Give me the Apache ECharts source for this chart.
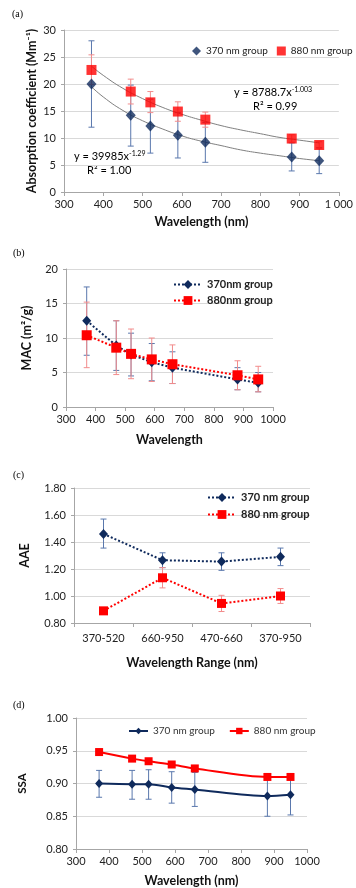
<!DOCTYPE html>
<html><head><meta charset="utf-8">
<script src="https://cdn.jsdelivr.net/npm/echarts@6/dist/echarts.min.js"></script>
<style>html,body{margin:0;padding:0;background:#fff}#c{width:356px;height:888px}</style>
</head><body><div id="c"></div>
<script>
// ---------- data ----------
const wavelengths = [370, 470, 520, 590, 660, 880, 950];
// (a) absorption coefficient (Mm-1)
const absG370 = [20.0, 14.2, 12.2, 10.5, 9.2, 6.5, 5.8];
const absG370Lo = [12.0, 8.5, 7.2, 6.3, 5.5, 3.9, 3.4];
const absG370Hi = [28.0, 19.8, 17.2, 14.7, 12.9, 9.1, 8.2];
const absG880 = [22.6, 18.6, 16.6, 14.9, 13.4, 9.9, 8.7];
const absG880Lo = [19.9, 16.3, 14.7, 13.1, 12.0, 9.2, 8.1];
const absG880Hi = [25.4, 20.9, 18.6, 16.7, 14.8, 10.6, 9.3];
const trendX = [370, 400, 450, 500, 550, 600, 650, 700, 750, 800, 850, 900, 950];
const trend370 = [19.5, 17.6, 15.1, 13.2, 11.7, 10.4, 9.4, 8.6, 7.8, 7.2, 6.7, 6.2, 5.8];
const trend880 = [23.3, 21.6, 19.2, 17.3, 15.7, 14.4, 13.3, 12.3, 11.5, 10.8, 10.1, 9.6, 9.1];
// (b) MAC (m2/g)
const macG370 = [12.5, 8.9, 7.6, 6.5, 5.7, 4.0, 3.5];
const macG370Lo = [7.5, 5.3, 4.5, 3.8, 3.4, 2.5, 2.2];
const macG370Hi = [17.4, 12.5, 10.7, 9.2, 8.0, 5.7, 5.0];
const macG880 = [10.4, 8.6, 7.7, 6.9, 6.2, 4.6, 4.0];
const macG880Lo = [5.7, 4.7, 4.1, 3.7, 3.4, 2.5, 2.2];
const macG880Hi = [15.2, 12.5, 11.3, 10.0, 9.0, 6.7, 5.9];
// (c) AAE
const ranges = ['370-520', '660-950', '470-660', '370-950'];
const aaeG370 = [1.46, 1.265, 1.255, 1.29];
const aaeG370Lo = [1.355, 1.21, 1.19, 1.225];
const aaeG370Hi = [1.57, 1.32, 1.32, 1.355];
const aaeG880 = [0.89, 1.135, 0.945, 1.0];
const aaeG880Lo = [0.875, 1.06, 0.885, 0.945];
const aaeG880Hi = [0.905, 1.21, 1.005, 1.055];
// (d) SSA
const ssaG370 = [0.900, 0.899, 0.899, 0.894, 0.891, 0.881, 0.883];
const ssaG370Lo = [0.879, 0.876, 0.876, 0.870, 0.865, 0.850, 0.852];
const ssaG370Hi = [0.920, 0.920, 0.921, 0.918, 0.917, 0.912, 0.913];
const ssaG880 = [0.948, 0.938, 0.934, 0.929, 0.923, 0.910, 0.910];
const ssaG880Lo = [0.943, 0.934, 0.930, 0.925, 0.919, 0.906, 0.906];
const ssaG880Hi = [0.953, 0.942, 0.938, 0.933, 0.927, 0.914, 0.914];

// ---------- styling ----------
const NAVY = '#0f2a5c', RED = '#ff0000', BLUEERR = '#5a78ad', REDERR = '#f28c8c';
const FONT = 'Lato, "Open Sans", sans-serif';
const legendNames = {a370:'370 nm group', a880:'880 nm group', b370:'370nm group', b880:'880nm group',
  c370:'370 nm group', c880:'880 nm group', d370:'370 nm group', d880:'880 nm group'};

function zip(xs, ys){ return xs.map((x,i)=>[x, ys[i]]); }
function errData(xs, lo, hi){ return xs.map((x,i)=>[x, lo[i], hi[i]]); }
function errSeries(name, xs, lo, hi, idx, color, cap){
  return {
    name: name, type: 'custom', xAxisIndex: idx, yAxisIndex: idx, z: 1, silent: true,
    data: errData(xs, lo, hi), encode: {x: 0, y: [1, 2]},
    renderItem: function(params, api){
      const x = api.value(0);
      const p1 = api.coord([x, api.value(1)]);
      const p2 = api.coord([x, api.value(2)]);
      const st = {stroke: color, lineWidth: 1};
      return {type: 'group', children: [
        {type: 'line', shape: {x1: p1[0], y1: p1[1], x2: p2[0], y2: p2[1]}, style: st},
        {type: 'line', shape: {x1: p1[0]-cap, y1: p1[1], x2: p1[0]+cap, y2: p1[1]}, style: st},
        {type: 'line', shape: {x1: p2[0]-cap, y1: p2[1], x2: p2[0]+cap, y2: p2[1]}, style: st}
      ]};
    }
  };
}
function valX(idx, nameText, gap, fmt){
  return {type: 'value', gridIndex: idx, min: 300, max: 1000, interval: 100,
    name: nameText, nameLocation: 'middle', nameGap: gap, nameMoveOverlap: false,
    nameTextStyle: {fontFamily: FONT, fontWeight: 'bold', fontSize: 12.5, color: '#111'},
    axisLine: {lineStyle: {color: '#a6a6a6'}}, axisTick: {show: true, length: 4, lineStyle: {color: '#a6a6a6'}},
    axisLabel: {fontFamily: FONT, fontSize: 11, color: '#222', margin: 7, formatter: fmt || (v => String(v))},
    splitLine: {show: false}};
}
function valY(idx, min, max, interval, nameText, gap, dec, nameSize){
  return {type: 'value', gridIndex: idx, min: min, max: max, interval: interval,
    name: nameText, nameLocation: 'middle', nameGap: gap, nameRotate: 90, nameMoveOverlap: false,
    nameTextStyle: {fontFamily: FONT, fontWeight: 'bold', fontSize: nameSize, color: '#111'},
    axisLine: {show: true, lineStyle: {color: '#a6a6a6'}}, axisTick: {show: true, length: 3, lineStyle: {color: '#a6a6a6'}},
    axisLabel: {fontFamily: FONT, fontSize: 11, color: '#222', margin: 8,
      formatter: v => dec ? v.toFixed(dec) : String(v)},
    splitLine: {show: true, lineStyle: {color: '#d9d9d9'}}};
}
function panelLabel(txt, x, y){
  return {type: 'text', left: x, top: y, style: {text: txt, font: '10px "Liberation Serif", serif', fill: '#000'}};
}
const rich = {m: {fontFamily: FONT, fontSize: 11, color: '#222'}, s: {fontFamily: FONT, fontSize: 7, color: '#222', verticalAlign: 'top', padding: [0,0,6,0]}};

const option = {
  animation: false,
  backgroundColor: '#fff',
  grid: [
    {left: 64, right: 12, top: 30, height: 162},
    {left: 66, right: 83, top: 269, height: 138},
    {left: 74, right: 46, top: 488, height: 135},
    {left: 76, right: 49, top: 718, height: 131}
  ],
  xAxis: [
    valX(0, 'Wavelength (nm)', 23, v => v === 1000 ? '1 000' : String(v)),
    valX(1, 'Wavelength', 26),
    {type: 'category', gridIndex: 2, data: ranges, boundaryGap: true,
      name: 'Wavelength Range (nm)', nameLocation: 'middle', nameGap: 33, nameMoveOverlap: false,
      nameTextStyle: {fontFamily: FONT, fontWeight: 'bold', fontSize: 12.5, color: '#111'},
      axisLine: {lineStyle: {color: '#a6a6a6'}}, axisTick: {show: true, length: 4, alignWithLabel: false, lineStyle: {color: '#a6a6a6'}},
      axisLabel: {fontFamily: FONT, fontSize: 11, color: '#222', margin: 10}},
    valX(3, 'Wavelength (nm)', 25)
  ],
  yAxis: [
    valY(0, 0, 30, 5, 'Absorption coefficient (Mm⁻¹)', 26, 0, 12.5),
    valY(1, 0, 20, 5, 'MAC (m²/g)', 33, 0, 12.5),
    valY(2, 0.8, 1.8, 0.2, 'AAE', 43, 2, 12.5),
    valY(3, 0.8, 1.0, 0.05, 'SSA', 48, 2, 11.5)
  ],
  legend: [
    {data: ['a370', 'a880'], left: 187, top: 41, width: 169, orient: 'horizontal', itemGap: 9, itemWidth: 9, itemHeight: 9,
      selectedMode: false, formatter: n => legendNames[n], textStyle: {fontFamily: FONT, fontSize: 10, color: '#222'}},
    {data: ['b370', 'b880'], left: 168, top: 274, orient: 'vertical', itemGap: 5, itemWidth: 28, itemHeight: 11,
      selectedMode: false, formatter: n => legendNames[n], textStyle: {fontFamily: FONT, fontSize: 11, fontWeight: 'bold', color: '#222'}},
    {data: ['c370', 'c880'], left: 202, top: 487, orient: 'vertical', itemGap: 6, itemWidth: 28, itemHeight: 11,
      selectedMode: false, formatter: n => legendNames[n], textStyle: {fontFamily: FONT, fontSize: 11, fontWeight: 'bold', color: '#222'}},
    {data: ['d370', 'd880'], left: 123, top: 721, orient: 'horizontal', itemGap: 14, itemWidth: 19, itemHeight: 8,
      selectedMode: false, formatter: n => legendNames[n], textStyle: {fontFamily: FONT, fontSize: 10, color: '#333'}}
  ],
  graphic: [
    panelLabel('(a)', 12, 9),
    panelLabel('(b)', 13, 248),
    panelLabel('(c)', 13, 470),
    panelLabel('(d)', 13, 700),
    {type: 'text', left: 234, top: 86, style: {text: '{m|y = 8788.7x}{s|-1.003}', rich: rich}},
    {type: 'text', left: 253, top: 101, style: {text: '{m|R² = 0.99}', rich: rich}},
    {type: 'text', left: 74, top: 150, style: {text: '{m|y = 39985x}{s|-1.29}', rich: rich}},
    {type: 'text', left: 87, top: 165, style: {text: '{m|R² = 1.00}', rich: rich}}
  ],
  series: [
    // (a)
    errSeries('ea370', wavelengths, absG370Lo, absG370Hi, 0, BLUEERR, 3),
    errSeries('ea880', wavelengths, absG880Lo, absG880Hi, 0, REDERR, 3),
    {name: 'ta370', type: 'line', xAxisIndex: 0, yAxisIndex: 0, data: zip(trendX, trend370), smooth: true, showSymbol: false, symbol: 'none',
      lineStyle: {color: '#7f7f7f', width: 1}, z: 2, silent: true},
    {name: 'ta880', type: 'line', xAxisIndex: 0, yAxisIndex: 0, data: zip(trendX, trend880), smooth: true, showSymbol: false, symbol: 'none',
      lineStyle: {color: '#7f7f7f', width: 1}, z: 2, silent: true},
    {name: 'a370', type: 'scatter', xAxisIndex: 0, yAxisIndex: 0, data: zip(wavelengths, absG370), symbol: 'diamond', symbolSize: [10, 11],
      itemStyle: {color: NAVY}, z: 3},
    {name: 'a880', type: 'scatter', xAxisIndex: 0, yAxisIndex: 0, data: zip(wavelengths, absG880), symbol: 'rect', symbolSize: 10,
      itemStyle: {color: RED}, z: 3},
    // (b)
    errSeries('eb370', wavelengths, macG370Lo, macG370Hi, 1, BLUEERR, 3),
    errSeries('eb880', wavelengths, macG880Lo, macG880Hi, 1, REDERR, 3),
    {name: 'b370', type: 'line', xAxisIndex: 1, yAxisIndex: 1, data: zip(wavelengths, macG370), symbol: 'diamond', symbolSize: [9, 10],
      itemStyle: {color: NAVY}, lineStyle: {color: NAVY, width: 2, type: 'dotted'}, z: 3},
    {name: 'b880', type: 'line', xAxisIndex: 1, yAxisIndex: 1, data: zip(wavelengths, macG880), symbol: 'rect', symbolSize: 10,
      itemStyle: {color: RED}, lineStyle: {color: RED, width: 2, type: 'dotted'}, z: 4},
    // (c)
    errSeries('ec370', [0, 1, 2, 3], aaeG370Lo, aaeG370Hi, 2, BLUEERR, 3),
    errSeries('ec880', [0, 1, 2, 3], aaeG880Lo, aaeG880Hi, 2, REDERR, 3),
    {name: 'c370', type: 'line', xAxisIndex: 2, yAxisIndex: 2, data: aaeG370, symbol: 'diamond', symbolSize: [9, 10],
      itemStyle: {color: NAVY}, lineStyle: {color: NAVY, width: 2, type: 'dotted'}, z: 3},
    {name: 'c880', type: 'line', xAxisIndex: 2, yAxisIndex: 2, data: aaeG880, symbol: 'rect', symbolSize: 9,
      itemStyle: {color: RED}, lineStyle: {color: RED, width: 2, type: 'dotted'}, z: 3},
    // (d)
    errSeries('ed370', wavelengths, ssaG370Lo, ssaG370Hi, 3, BLUEERR, 3),
    errSeries('ed880', wavelengths, ssaG880Lo, ssaG880Hi, 3, REDERR, 3),
    {name: 'd370', type: 'line', xAxisIndex: 3, yAxisIndex: 3, data: zip(wavelengths, ssaG370), smooth: 0.3, symbol: 'diamond', symbolSize: [8, 9],
      itemStyle: {color: NAVY}, lineStyle: {color: NAVY, width: 2}, z: 3},
    {name: 'd880', type: 'line', xAxisIndex: 3, yAxisIndex: 3, data: zip(wavelengths, ssaG880), smooth: 0.3, symbol: 'rect', symbolSize: 8,
      itemStyle: {color: RED}, lineStyle: {color: RED, width: 2}, z: 3}
  ]
};
const chart = echarts.init(document.getElementById('c'), null, {renderer: 'canvas'});
chart.setOption(option);
</script>
</body></html>
